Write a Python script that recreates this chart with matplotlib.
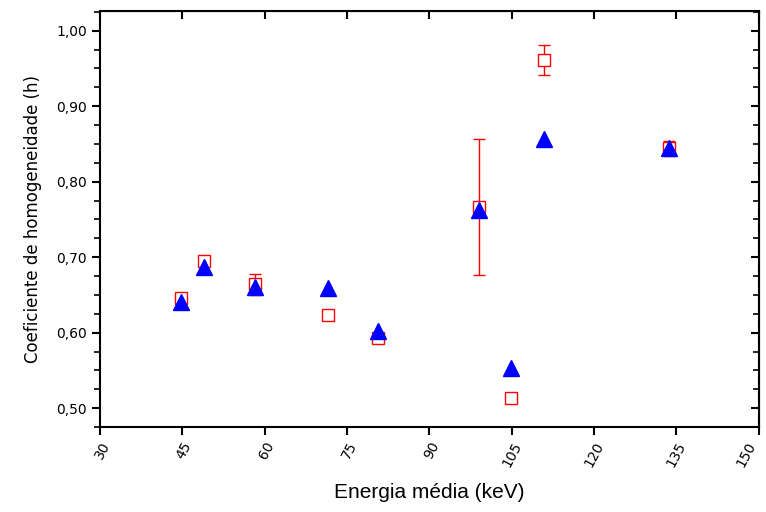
import matplotlib.pyplot as plt
from matplotlib.ticker import MultipleLocator, FuncFormatter, NullFormatter

# energia media (keV)
energia = [44.7, 48.9, 58.3, 71.6, 80.6, 99.1, 104.8, 110.8, 133.6]
# quadrados vermelhos (com barra de erro)
h_quad = [0.646, 0.695, 0.664, 0.624, 0.593, 0.766, 0.514, 0.961, 0.844]
h_err = [0.004, 0.003, 0.014, 0.003, 0.003, 0.090, 0.005, 0.020, 0.010]
# triangulos azuis
h_tri = [0.641, 0.687, 0.660, 0.659, 0.602, 0.763, 0.553, 0.856, 0.845]
x_ticks = [30, 45, 60, 75, 90, 105, 120, 135, 150]

fig = plt.figure(figsize=(7.66, 5.12), dpi=100)
ax = fig.add_axes([0.1305, 0.166, 0.86, 0.8125])

ax.errorbar(energia, h_quad, yerr=h_err, fmt='s', color='red', mfc='white',
            mec='red', ms=8.5, mew=1.0, elinewidth=1.0, capsize=4, capthick=1.0,
            ecolor='red', zorder=2)
ax.plot(energia, h_tri, '^', color='blue', ms=11, zorder=3)

ax.set_xlim(30, 150)
ax.set_ylim(0.475, 1.026)
ax.set_xticks(x_ticks)
ax.yaxis.set_major_locator(MultipleLocator(0.1))
ax.yaxis.set_minor_locator(MultipleLocator(0.025))
ax.yaxis.set_major_formatter(FuncFormatter(lambda v, p: f"{v:.2f}".replace('.', ',')))

for s in ax.spines.values():
    s.set_linewidth(1.5)
ax.tick_params(axis='both', which='major', length=6, width=1.5, labelsize=10)
ax.tick_params(axis='x', which='major', pad=3)
ax.tick_params(axis='y', which='minor', length=4, width=1.2)

# top and right: inward ticks, no labels
top = ax.secondary_xaxis('top')
top.set_xticks(x_ticks)
top.xaxis.set_major_formatter(NullFormatter())
top.tick_params(direction='in', length=6, width=1.5)
right = ax.secondary_yaxis('right')
right.yaxis.set_major_locator(MultipleLocator(0.1))
right.yaxis.set_minor_locator(MultipleLocator(0.025))
right.yaxis.set_major_formatter(NullFormatter())
right.tick_params(which='major', direction='in', length=6, width=1.5)
right.tick_params(which='minor', direction='in', length=4, width=1.2)

labs = ax.get_xticklabels()
for lab in labs:
    lab.set_rotation(62)
    lab.set_ha('right')
    lab.set_va('top')
for lab in labs[:-1]:
    lab.set_rotation_mode('anchor')

ax.set_xlabel('Energia média (keV)', fontsize=15, family='Liberation Sans', labelpad=10)
ax.set_ylabel('Coeficiente de homogeneidade (h)', fontsize=12, labelpad=10)

fig.savefig('out.png', dpi=100)
